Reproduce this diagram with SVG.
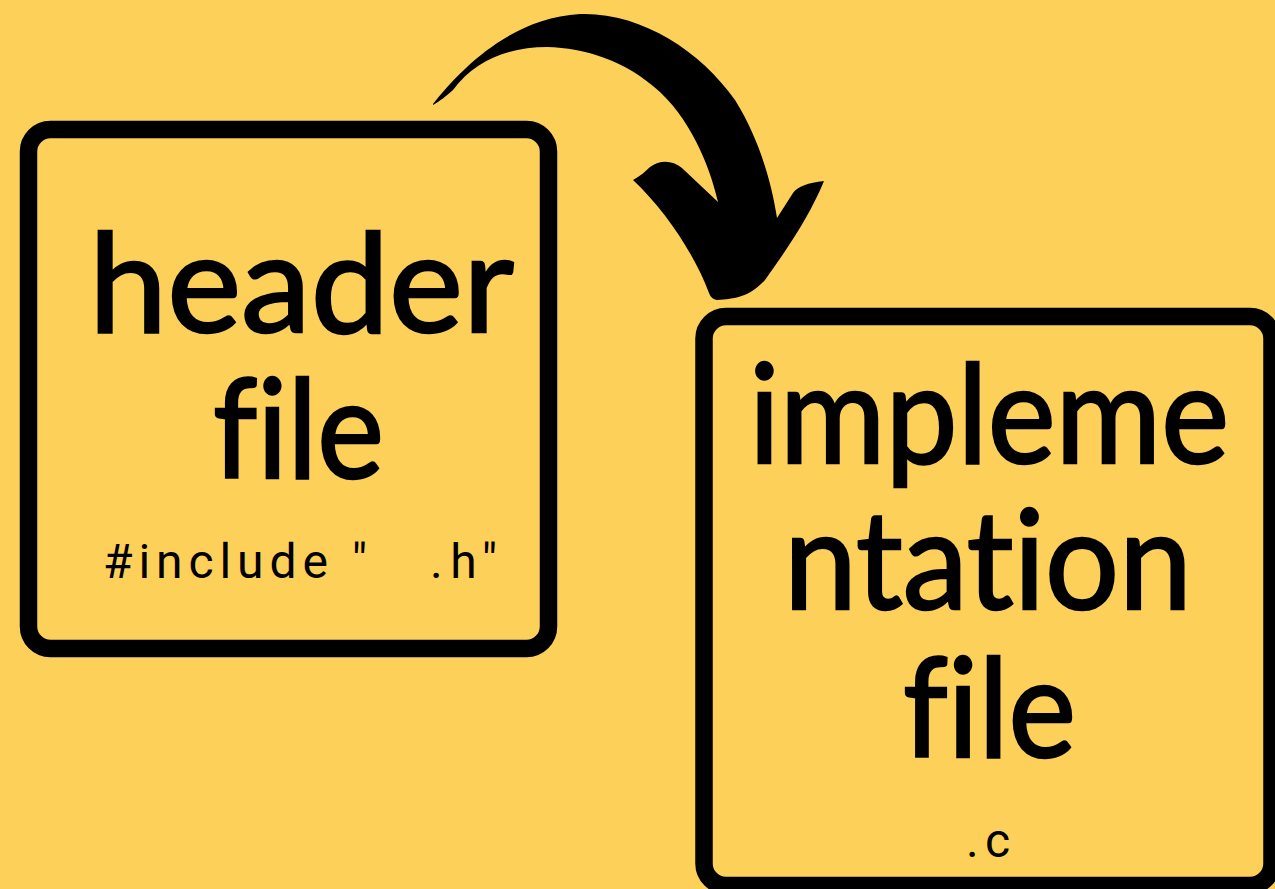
<svg xmlns="http://www.w3.org/2000/svg" width="1275" height="889" viewBox="0 0 1275 889">
<style>
.box{fill:none;stroke:#000;stroke-width:17.5}
.big{font-family:Lato,"Noto Sans",sans-serif;font-size:138px;fill:#000;stroke:#000;stroke-width:2.5;font-variant-ligatures:none;font-feature-settings:"liga" 0}
.small{font-family:Roboto,"Liberation Sans",sans-serif;font-size:48px;fill:#000}
</style>
<rect width="1275" height="889" fill="#FDD05A"/>
<g id="connectors">
<path fill="#000" d="M433,104 C460,70 510,18 580,14 C640,12 700,50 735,100 C760,140 772,185 777,218 L793,193 C798,186 808,183 824,181 C810,215 790,245 765,280 C750,297 735,299 717,300 Q711,299 709,293 C695,255 665,210 633,180 C640,176 645,172 650,167 C660,160 672,160 682,168 L718,202 C712,175 695,125 660,92 C625,60 585,48 547,47 C510,47 475,60 453,90 C445,97 440,101 433,105 Z"/>
</g>
<g id="header-file">
<rect class="box" x="28.5" y="129.5" width="520" height="519" rx="22"/>
<text class="big" x="89" y="332" textLength="425" lengthAdjust="spacingAndGlyphs">header</text>
<text class="big" x="213" y="478" textLength="171" lengthAdjust="spacingAndGlyphs">file</text>
<text class="small" x="103" y="578" textLength="264" lengthAdjust="spacing">#include "</text>
<text class="small" x="430" y="578" textLength="67" lengthAdjust="spacing">.h"</text>
</g>
<g id="implementation-file">
<rect class="box" x="704" y="316.5" width="568" height="569" rx="22"/>
<text class="big" x="749" y="463" textLength="480" lengthAdjust="spacingAndGlyphs">impleme</text>
<text class="big" x="784" y="609" textLength="408" lengthAdjust="spacingAndGlyphs">ntation</text>
<text class="big" x="903" y="757" textLength="173" lengthAdjust="spacingAndGlyphs">file</text>
<text class="small" x="966" y="857" textLength="44" lengthAdjust="spacing">.c</text>
</g>
</svg>
